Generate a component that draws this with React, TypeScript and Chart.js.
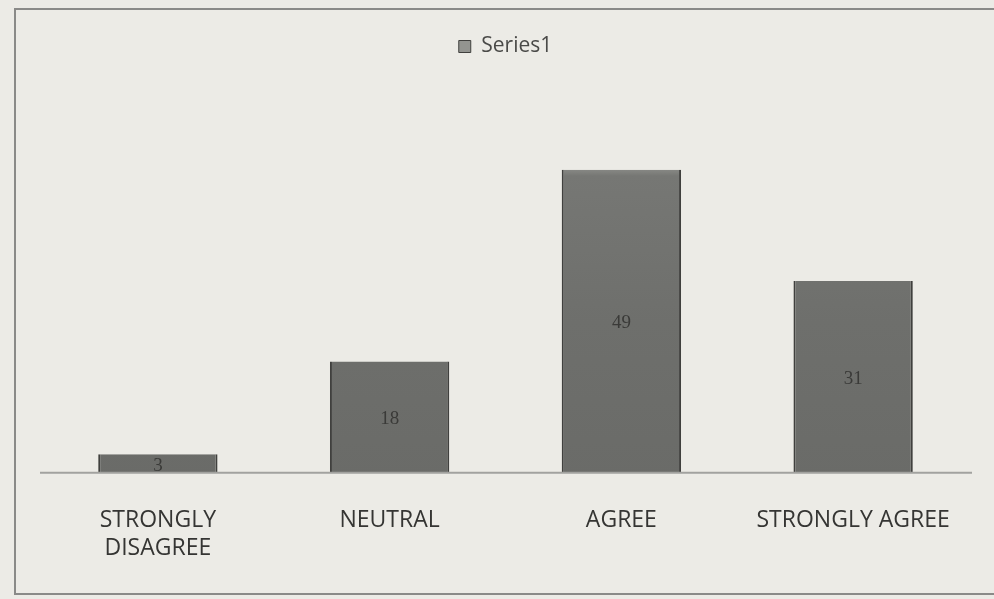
import React, { useEffect, useRef } from "react";
import { Chart, registerables } from "chart.js";

Chart.register(...registerables);

const categories: (string | string[])[] = [["STRONGLY", "DISAGREE"], "NEUTRAL", "AGREE", "STRONGLY AGREE"];
const seriesName = "Series1";
const seriesValues = [3, 18, 49, 31];

const bgPlugin = {
  id: "bgPlugin",
  beforeDraw(chart: any) {
    const ctx = chart.ctx;
    ctx.save();
    ctx.fillStyle = "#ecebe6";
    ctx.fillRect(0, 0, chart.width, chart.height);
    ctx.strokeStyle = "#8a8a88";
    ctx.lineWidth = 2;
    ctx.strokeRect(15, 9, chart.width + 10, chart.height - 14);
    ctx.restore();
  },
};

const axisLinePlugin = {
  id: "axisLinePlugin",
  afterDatasetsDraw(chart: any) {
    const ctx = chart.ctx;
    const y = chart.scales.y.getPixelForValue(0);
    const { left, right } = chart.chartArea;
    ctx.save();
    ctx.strokeStyle = "#a2a29f";
    ctx.lineWidth = 2;
    ctx.beginPath();
    ctx.moveTo(left - 2, y);
    ctx.lineTo(right + 3, y);
    ctx.stroke();
    ctx.restore();
  },
  afterDraw(chart: any) {
    const ctx = chart.ctx;
    const meta = chart.getDatasetMeta(0);
    ctx.save();
    ctx.fillStyle = "#3a3a38";
    ctx.font = "19px 'Liberation Serif', serif";
    ctx.textAlign = "center";
    ctx.textBaseline = "middle";
    meta.data.forEach((el: any, i: number) => {
      const v = chart.data.datasets[0].data[i];
      const yMid = (el.y + el.base) / 2;
      ctx.fillText(String(v), el.x, yMid + 2);
    });
    ctx.restore();
  },
};

export default function App() {
  const ref = useRef<HTMLCanvasElement>(null);
  useEffect(() => {
    if (!ref.current) return;
    const ctx = ref.current.getContext("2d")!;
    const grad = ctx.createLinearGradient(0, 165, 0, 480);
    grad.addColorStop(0, "#939490");
    grad.addColorStop(0.035, "#767774");
    grad.addColorStop(0.5, "#6e6f6c");
    grad.addColorStop(1, "#6a6b68");
    const chart = new Chart(ref.current, {
      type: "bar",
      data: {
        labels: categories,
        datasets: [
          {
            label: seriesName,
            data: seriesValues,
            backgroundColor: grad,
            borderColor: "#40403e",
            borderWidth: { left: 2, right: 2, top: 0, bottom: 0 },
            borderSkipped: false,
            categoryPercentage: 1,
            barPercentage: 0.515,
          },
        ],
      },
      options: {
        animation: false,
        responsive: false,
        layout: { padding: { left: 42, right: 25, top: 26, bottom: 3 } },
        plugins: {
          legend: {
            display: true,
            position: "top",
            labels: {
              boxWidth: 12,
              boxHeight: 12,
              color: "#4a4a48",
              font: { family: "'Open Sans', sans-serif", size: 21 },
              padding: 10,
            },
          },
          tooltip: { enabled: false },
        },
        scales: {
          x: {
            grid: { display: false, drawTicks: false },
            border: { display: false },
            ticks: {
              color: "#353533",
              font: { family: "'Open Sans', sans-serif", size: 23, lineHeight: 1.2 },
              padding: 34,
              maxRotation: 0,
              autoSkip: false,
            },
          },
          y: {
            display: false,
            min: 0,
            max: 65.6,
          },
        },
      },
      plugins: [bgPlugin, axisLinePlugin],
    });
    return () => chart.destroy();
  }, []);
  return (
    <div style={{ position: "absolute", left: 0, top: 0, width: 994, height: 599 }}>
      <canvas ref={ref} width={994} height={599} style={{ display: "block" }} />
    </div>
  );
}
